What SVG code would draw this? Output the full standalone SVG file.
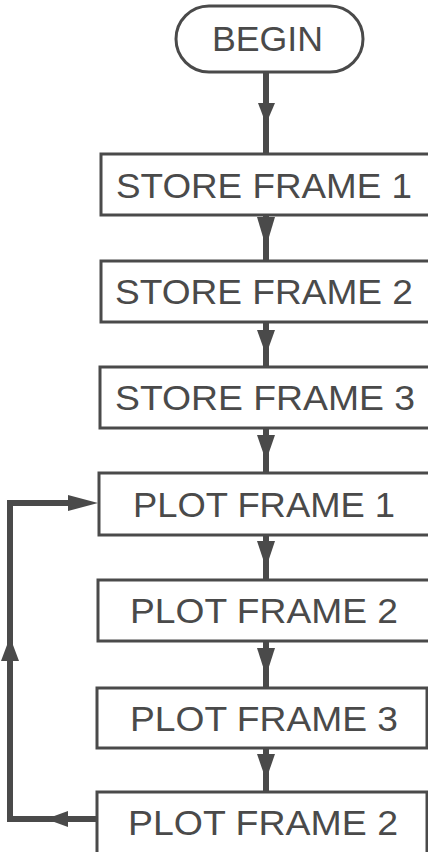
<svg xmlns="http://www.w3.org/2000/svg" width="428" height="852" viewBox="0 0 428 852">
<style>
.box{fill:#fff;stroke:#4a4a4a;stroke-width:3}
.lbl{font-family:"Liberation Sans",Arial,sans-serif;font-size:35px;fill:#4a4a4a}
.ln{fill:none;stroke:#4a4a4a;stroke-width:6}
.ah{fill:#4a4a4a}
</style>
<rect width="428" height="852" fill="#fff"/>
<g id="connectors">
<path class="ln" d="M266 72V154M266 215V261M266 322V367M266 428V473M266 535V580M266 641V688M266 748V792"/>
<path class="ah" d="M258 103H275L266 124Z"/>
<path class="ah" d="M257 217H275L266 247Z"/>
<path class="ah" d="M257 330H275L266 355Z"/>
<path class="ah" d="M257 435H275L266 461Z"/>
<path class="ah" d="M257 541H275L266 568Z"/>
<path class="ah" d="M257 648H275L266 676Z"/>
<path class="ah" d="M257 754H275L266 780Z"/>
<path class="ln" d="M97 819H10V503H72"/>
<path class="ah" d="M68 811V827L46 819Z"/>
<path class="ah" d="M1 661H19L10 637Z"/>
<path class="ah" d="M68 495V511L98 503Z"/>
</g>
<g id="begin">
<rect class="box" x="176" y="6" width="187" height="66" rx="33"/>
<text class="lbl" x="212" y="51" textLength="111" lengthAdjust="spacingAndGlyphs">BEGIN</text>
</g>
<g id="store1">
<rect class="box" x="101" y="154" width="332" height="61"/>
<text class="lbl" x="116" y="198" textLength="296" lengthAdjust="spacingAndGlyphs">STORE FRAME 1</text>
</g>
<g id="store2">
<rect class="box" x="101" y="261" width="332" height="61"/>
<text class="lbl" x="115" y="304" textLength="298" lengthAdjust="spacingAndGlyphs">STORE FRAME 2</text>
</g>
<g id="store3">
<rect class="box" x="100" y="367" width="333" height="61"/>
<text class="lbl" x="115" y="410" textLength="300" lengthAdjust="spacingAndGlyphs">STORE FRAME 3</text>
</g>
<g id="plot1">
<rect class="box" x="99" y="473" width="334" height="62"/>
<text class="lbl" x="133" y="517" textLength="262" lengthAdjust="spacingAndGlyphs">PLOT FRAME 1</text>
</g>
<g id="plot2">
<rect class="box" x="98" y="580" width="335" height="61"/>
<text class="lbl" x="130" y="623" textLength="268" lengthAdjust="spacingAndGlyphs">PLOT FRAME 2</text>
</g>
<g id="plot3">
<rect class="box" x="97" y="688" width="330" height="60"/>
<text class="lbl" x="130" y="731" textLength="268" lengthAdjust="spacingAndGlyphs">PLOT FRAME 3</text>
</g>
<g id="plot2b">
<rect class="box" x="97" y="792" width="330" height="66"/>
<text class="lbl" x="128" y="835" textLength="270" lengthAdjust="spacingAndGlyphs">PLOT FRAME 2</text>
</g>
</svg>
